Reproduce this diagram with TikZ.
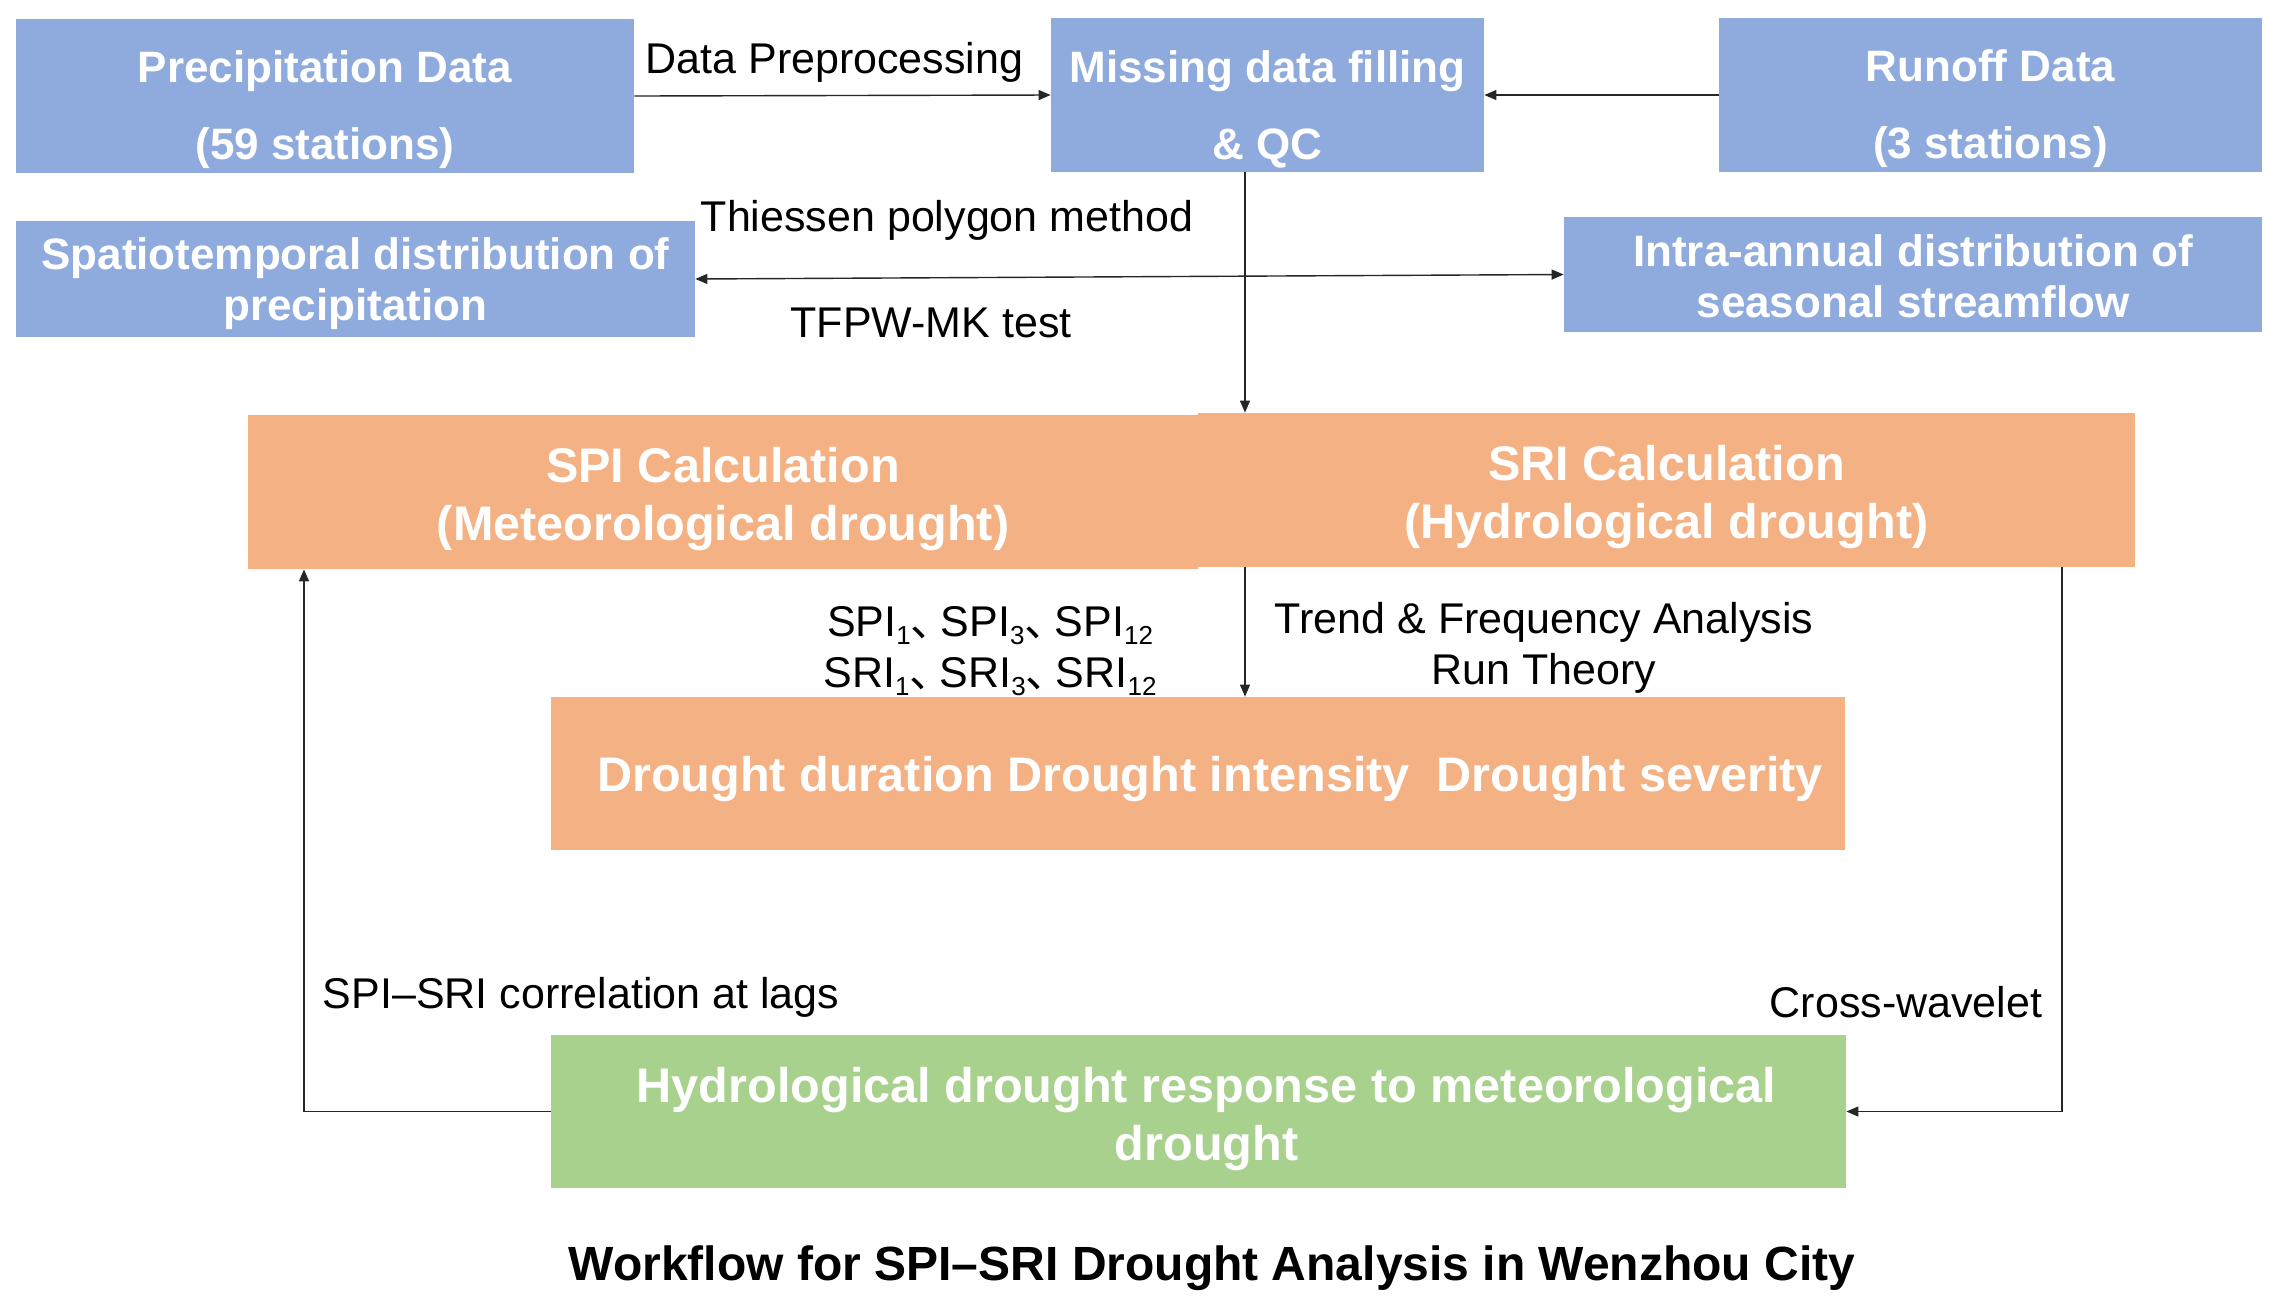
\documentclass[tikz,border=0pt]{standalone}
\usepackage{fontspec}
\setmainfont{Liberation Sans}
\newfontfamily\cjk{Noto Sans CJK SC}
\usetikzlibrary{arrows.meta,calc}
\definecolor{boxblue}{HTML}{8FAADC}
\definecolor{boxorange}{HTML}{F4B183}
\definecolor{boxgreen}{HTML}{A9D18E}
\newcommand\sbs[1]{\raisebox{-0.35ex}{\fontsize{13}{13}\selectfont #1}}
\newcommand\dun{\makebox[0.7em][l]{\cjk 、}}
\tikzset{
  box/.style={rectangle, inner sep=0pt, draw=none},
  bbox/.style={box, fill=boxblue},
  obox/.style={box, fill=boxorange},
  gbox/.style={box, fill=boxgreen},
  btext/.style={inner sep=0pt, text=white, align=center,
    font=\bfseries\fontsize{22}{25.5}\selectfont},
  otext/.style={inner sep=0pt, text=white, align=center,
    font=\bfseries\fontsize{24.3}{29}\selectfont},
  lbl/.style={font=\fontsize{21.5}{25.5}\selectfont, align=center, inner sep=0pt, text=black},
  arr/.style={-{Triangle[length=6pt,width=5pt]}, line width=0.7pt, draw=black!85},
  arrb/.style={{Triangle[length=6pt,width=5pt]}-{Triangle[length=6pt,width=5pt]}, line width=0.7pt, draw=black!85}
}
\begin{document}
\begin{tikzpicture}[x=0.5pt,y=-0.5pt]
\useasboundingbox (0,0) rectangle (2281,1314);
\fill[white] (0,0) rectangle (2281,1314);
% boxes
\node[bbox, minimum width=309pt, minimum height=77pt] (precip) at (325,96) {};
\node[bbox, minimum width=216.5pt, minimum height=77pt] (missing) at (1267.5,95) {};
\node[bbox, minimum width=271.5pt, minimum height=77pt] (runoff) at (1990.5,95) {};
\node[bbox, minimum width=339.5pt, minimum height=58pt] (spatio) at (355.5,279) {};
\node[bbox, minimum width=349pt, minimum height=57.5pt] (intra) at (1913,274.5) {};
\node[obox, minimum width=475pt, minimum height=77pt] (spi) at (723,492) {};
\node[obox, minimum width=468.5pt, minimum height=77pt] (sri) at (1666.5,490) {};
\node[obox, minimum width=647pt, minimum height=76.5pt] (drought) at (1198,773.5) {};
\node[gbox, minimum width=647.5pt, minimum height=76.5pt] (resp) at (1198.5,1111.5) {};
% box texts
\node[btext] (precipt) at ([yshift=-7pt]precip.center) {Precipitation Data\\[13pt](59 stations)};
\node[btext] (missingt) at ([yshift=-7pt]missing.center) {Missing data filling\\[13pt]\& QC};
\node[btext] (runofft) at ([yshift=-7pt]runoff.center) {Runoff Data\\[13pt](3 stations)};
\node[btext] (spatiot) at ([yshift=-2.2pt]spatio.center) {Spatiotemporal distribution of\\precipitation};
\node[btext] (intrat) at ([yshift=-0.7pt]intra.center) {Intra-annual distribution of\\seasonal streamflow};
\node[otext] (spit) at ([yshift=-3.3pt]spi.center) {SPI Calculation\\(Meteorological drought)};
\node[otext] (srit) at ([yshift=-3.3pt]sri.center) {SRI Calculation\\(Hydrological drought)};
\node[otext] (droughtt) at ([yshift=-2.9pt,xshift=6pt]drought.center) {Drought duration Drought intensity\ \ Drought severity};
\node[otext] (respt) at ([yshift=-3.6pt,xshift=4pt]resp.center) {Hydrological drought response to meteorological\\drought};
% helper coordinates
\coordinate (vx) at (1245,0);
\coordinate (lx) at (304,0);
\coordinate (rx) at (2062,0);
% connectors
\draw[arr] (precip.east) -- (missing.west);
\draw[arr] (runoff.west) -- (missing.east);
\draw[arr] (missing.south -| vx) -- (sri.north -| vx);
\draw[arrb] (spatio.east) -- (intra.west);
\draw[arr] (sri.south -| vx) -- (drought.north -| vx);
\draw[arr] (resp.west) -| (spi.south -| lx);
\draw[arr] (sri.south -| rx) |- (resp.east);
% labels
\node[lbl] (lpre) at (834.5,62) {Data Preprocessing};
\node[lbl] (lthi) at (947,220) {Thiessen polygon method};
\node[lbl] (ltfp) at (931,323) {TFPW-MK test};
\node[lbl] (lidx) at (990,651) {SPI\sbs{1}\dun SPI\sbs{3}\dun SPI\sbs{12}\\SRI\sbs{1}\dun SRI\sbs{3}\dun SRI\sbs{12}};
\node[lbl] (ltrd) at (1544,648) {Trend \& Frequency Analysis\\Run Theory};
\node[lbl] (lcor) at (581,997) {SPI--SRI correlation at lags};
\node[lbl] (lcxw) at (1906,1002) {Cross-wavelet};
\node[lbl, font=\bfseries\fontsize{24}{28}\selectfont] (title) at (1212,1268) {Workflow for SPI--SRI Drought Analysis in Wenzhou City};
\end{tikzpicture}
\end{document}
